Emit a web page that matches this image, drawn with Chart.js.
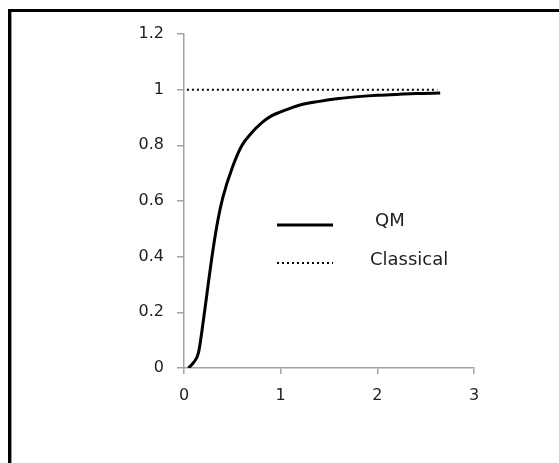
<!DOCTYPE html>
<html>
<head>
<meta charset="utf-8">
<script src="https://cdn.jsdelivr.net/npm/chart.js@4.4.1/dist/chart.umd.min.js"></script>
<style>
  body { margin: 0; background: #fff; overflow: hidden; }
  canvas { display: block; }
</style>
</head>
<body>
<canvas id="myChart" width="559" height="463"></canvas>
<script>
// values
var qmX = [0.045, 0.1, 0.15, 0.2, 0.25, 0.3, 0.35, 0.4, 0.5, 0.6, 0.7, 0.8, 0.9, 1.0, 1.2, 1.4, 1.6, 1.8, 2.0, 2.2, 2.4, 2.65];
var qmY = [0, 0.02, 0.055, 0.17, 0.30, 0.425, 0.53, 0.61, 0.72, 0.80, 0.845, 0.88, 0.905, 0.92, 0.945, 0.958, 0.968, 0.975, 0.98, 0.983, 0.986, 0.988];
var classicalX = [0.03, 2.62];
var classicalY = [1, 1];

var xTicks = [0, 1, 2, 3];
var xTickLabels = ['0', '1', '2', '3'];
var yTicks = [0, 0.2, 0.4, 0.6, 0.8, 1, 1.2];
var yTickLabels = ['0', '0.2', '0.4', '0.6', '0.8', '1', '1.2'];

function toPoints(xs, ys) {
    return xs.map(function (x, i) { return { x: x, y: ys[i] }; });
}

var axisGrey = '#a3a3a3';
var textColor = '#1e1e1e';

// outer chart frame (only left and top edges are inside the picture)
var frame = {
    id: 'frame',
    beforeDraw: function (chart) {
        var c = chart.ctx;
        c.save();
        c.fillStyle = '#fff';
        c.fillRect(0, 0, chart.width, chart.height);
        c.fillStyle = '#000';
        c.fillRect(8, 9, 3, chart.height);
        c.fillRect(8, 9, chart.width, 3);
        c.fillStyle = '#9a9a9a';
        c.fillRect(11, 12, 1, chart.height);
        c.restore();
    }
};

// legend drawn inside the plot, like the Excel original
var innerLegend = {
    id: 'innerLegend',
    afterDatasetsDraw: function (chart, args, opts) {
        var ctx = chart.ctx;
        ctx.save();
        chart.data.datasets.forEach(function (ds, i) {
            var y = opts.rows[i];
            ctx.beginPath();
            ctx.strokeStyle = ds.borderColor;
            ctx.lineWidth = ds.borderWidth;
            ctx.setLineDash(ds.borderDash || []);
            ctx.moveTo(opts.lineFrom, y);
            ctx.lineTo(opts.lineTo, y);
            ctx.stroke();
            ctx.setLineDash([]);
            ctx.fillStyle = textColor;
            ctx.font = opts.font;
            ctx.textBaseline = 'middle';
            ctx.textAlign = 'left';
            ctx.fillText(ds.label, opts.textX[i], opts.textRows[i]);
        });
        ctx.restore();
    }
};

var ctx = document.getElementById('myChart');
var myChart = new Chart(ctx, {
    type: 'scatter',
    data: {
        datasets: [{
            label: 'QM',
            data: toPoints(qmX, qmY),
            showLine: true,
            borderColor: '#000',
            borderWidth: 3,
            pointRadius: 0,
            cubicInterpolationMode: 'monotone'
        }, {
            label: 'Classical',
            data: toPoints(classicalX, classicalY),
            showLine: true,
            borderColor: '#000',
            borderWidth: 2,
            borderDash: [2, 3],
            pointRadius: 0
        }]
    },
    plugins: [frame, innerLegend],
    options: {
        responsive: false,
        animation: false,
        layout: { padding: { left: 0, top: 34, right: 85, bottom: 0 } },
        plugins: {
            legend: { display: false },
            tooltip: { enabled: false },
            innerLegend: {
                lineFrom: 277,
                lineTo: 333,
                rows: [225, 263],
                textX: [375, 370],
                textRows: [221, 260],
                font: '18px "DejaVu Sans"'
            }
        },
        scales: {
            x: {
                type: 'linear',
                min: 0,
                max: 3,
                afterBuildTicks: function (axis) {
                    axis.ticks = xTicks.map(function (v) { return { value: v }; });
                },
                afterFit: function (scale) { scale.height = 95; },
                ticks: {
                    color: textColor,
                    font: { family: 'DejaVu Sans', size: 16 },
                    padding: 12,
                    maxRotation: 0,
                    callback: function (v, i) { return xTickLabels[i]; }
                },
                grid: { drawOnChartArea: false, tickLength: 6, color: axisGrey, lineWidth: 1.5 },
                border: { color: axisGrey, width: 1.5 }
            },
            y: {
                type: 'linear',
                min: 0,
                max: 1.2,
                afterBuildTicks: function (axis) {
                    axis.ticks = yTicks.map(function (v) { return { value: v }; });
                },
                afterFit: function (scale) { scale.width = 184; },
                ticks: {
                    color: textColor,
                    font: { family: 'DejaVu Sans', size: 16 },
                    padding: 13,
                    callback: function (v, i) { return yTickLabels[i]; }
                },
                grid: { drawOnChartArea: false, tickLength: 7, color: axisGrey, lineWidth: 1.5 },
                border: { color: axisGrey, width: 1.5 }
            }
        }
    }
});
</script>
</body>
</html>
